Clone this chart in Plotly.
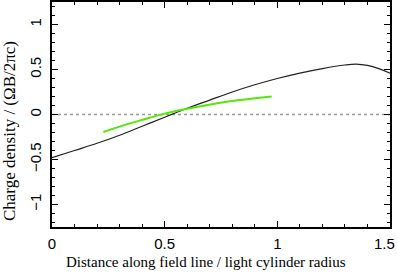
import plotly.graph_objects as go

# Black curve
black_x = [0.0, 0.1, 0.2, 0.3, 0.4, 0.5, 0.55, 0.6, 0.7, 0.8, 0.9, 1.0, 1.1, 1.2, 1.3, 1.35, 1.4, 1.45, 1.5]
black_y = [-0.48, -0.40, -0.32, -0.23, -0.13, -0.03, 0.02, 0.07, 0.16, 0.25, 0.33, 0.40, 0.46, 0.51, 0.55, 0.56, 0.545, 0.51, 0.46]

# Green curve
green_x = [0.228, 0.3, 0.4, 0.5, 0.6, 0.7, 0.8, 0.9, 0.975]
green_y = [-0.195, -0.135, -0.06, 0.01, 0.065, 0.11, 0.15, 0.18, 0.20]

x_ticks = [0, 0.5, 1, 1.5]
x_labels = ["0", "0.5", "1", "1.5"]
y_ticks = [-1, -0.5, 0, 0.5, 1]
y_labels = ["\u22121", "\u22120.5", "0", "0.5", "1"]

x_title = "Distance along field line / light cylinder radius"
y_title = "Charge density / (\u03a9B/2\u03c0c)"

fig = go.Figure()
fig.add_trace(go.Scatter(x=[0, 1.5], y=[0, 0], mode="lines",
                         line=dict(color="#999999", width=1.5, dash="dot"),
                         hoverinfo="skip"))
fig.add_trace(go.Scatter(x=black_x, y=black_y, mode="lines",
                         line=dict(color="#222222", width=1.2, shape="spline")))
fig.add_trace(go.Scatter(x=green_x, y=green_y, mode="lines",
                         line=dict(color="#55e60a", width=2, shape="spline")))

tick_font = dict(family="Liberation Sans", size=15, color="black")
axis_common = dict(showgrid=False, zeroline=False, showline=True, linecolor="black",
                   linewidth=1.5, mirror="allticks", ticks="inside", ticklen=6,
                   tickwidth=1.2, tickcolor="black", automargin=False,
                   ticklabeloverflow="allow", tickfont=tick_font)

# last x label is drawn as an annotation, right-aligned at the axis end (as in the reference)
fig.update_xaxes(range=[0, 1.5], tickvals=x_ticks, ticktext=x_labels[:-1] + [""],
                 minor=dict(ticks="inside", dtick=0.1, ticklen=3, tickcolor="black", tickwidth=1),
                 ticklabelstandoff=2,
                 **axis_common)
fig.update_yaxes(range=[-1.25, 1.25], tickvals=y_ticks, ticktext=y_labels, tickangle=-90,
                 minor=dict(ticks="inside", dtick=0.1, ticklen=3, tickcolor="black", tickwidth=1),
                 ticklabelstandoff=3,
                 **axis_common)

fig.add_annotation(text=x_labels[-1], xref="x", yref="paper", x=x_ticks[-1], y=0,
                   xanchor="right", yanchor="middle", xshift=6, yshift=-16,
                   showarrow=False, borderpad=0, font=tick_font)
fig.add_annotation(text=x_title, xref="paper", yref="paper", x=0.456, y=-0.156,
                   xanchor="center", yanchor="middle", showarrow=False,
                   font=dict(family="Liberation Serif", size=15, color="black"))
fig.add_annotation(text=y_title, xref="paper", yref="paper", x=-0.124, y=0.427,
                   xanchor="center", yanchor="middle", showarrow=False, textangle=-90,
                   font=dict(family="Liberation Serif", size=17, color="black"))

fig.update_layout(width=397, height=278, showlegend=False,
                  margin=dict(l=52, r=7, t=2, b=51),
                  plot_bgcolor="white", paper_bgcolor="white")

fig.write_html("out.html", config={"displayModeBar": False},
               post_script="document.body.style.margin='0';document.body.style.padding='0';")
